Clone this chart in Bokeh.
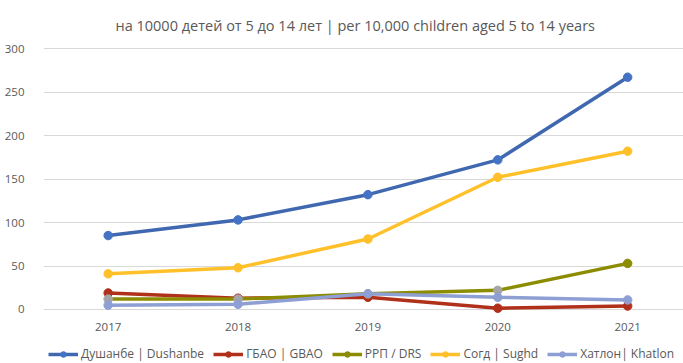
from bokeh.plotting import figure
from bokeh.models import Range1d, FixedTicker, Legend, LegendItem, ColumnDataSource, LabelSet
from bokeh.core.properties import value
from bokeh.embed import file_html
from bokeh.resources import INLINE

years = [2017, 2018, 2019, 2020, 2021]
year_labels = ["2017", "2018", "2019", "2020", "2021"]
dushanbe = [85, 103, 132, 172, 267]
gbao = [19, 13, 14, 1.5, 4]
drs = [12, 12, 18, 22, 53]
sughd = [41, 48, 81, 152, 182]
khatlon = [5, 6, 18, 14, 11]
y_ticks = [0, 50, 100, 150, 200, 250, 300]

series_names = ["Душанбе | Dushanbe", "ГБАО | GBAO", "РРП / DRS", "Согд | Sughd", "Хатлон| Khatlon"]
series_values = [dushanbe, gbao, drs, sughd, khatlon]
line_colors = ["#4068B0", "#B0301A", "#8C8C00", "#FFC02A", "#8E9FD3"]
marker_colors = [
    ["#4472C4"] * 5,
    ["#B0301A"] * 5,
    ["#A5A5A5", "#A5A5A5", "#8C8C00", "#A5A5A5", "#8C8C00"],
    ["#FFC02A"] * 5,
    ["#8E9FD3"] * 5,
]

FONT = "Open Sans"
TXT = "#595959"

# frame spans from y=44 to the bottom of the canvas; 0 sits at y=309
p = figure(width=683, height=363, output_backend="svg", toolbar_location=None,
           x_range=Range1d(2016.502, 2021.43), y_range=Range1d(-62.07, 304.6),
           min_border_left=43, min_border_right=0, min_border_top=44, min_border_bottom=0,
           title="на 10000 детей от 5 до 14 лет | per 10,000 children aged 5 to 14 years")
p.outline_line_color = None
p.background_fill_color = "white"
p.border_fill_color = "white"

p.title.align = "left"
p.title.offset = 72
p.title.text_font = FONT
p.title.text_font_size = "14.5px"
p.title.text_font_style = "normal"
p.title.text_color = TXT
p.title.standoff = 20

p.xgrid.visible = False
p.xaxis.visible = False
p.ygrid.ticker = FixedTicker(ticks=y_ticks)
p.ygrid.grid_line_color = "#D9D9D9"
p.ygrid.grid_line_width = 1

yax = p.yaxis[0]
yax.ticker = FixedTicker(ticks=y_ticks)
yax.axis_line_color = None
yax.major_tick_line_color = None
yax.minor_tick_line_color = None
yax.major_label_text_font = FONT
yax.major_label_text_font_size = "11.5px"
yax.major_label_text_color = TXT
yax.major_label_standoff = 13

# category labels under the plot
lab_src = ColumnDataSource(dict(x=years, y=[-20.5] * len(years), t=year_labels))
p.add_layout(LabelSet(x="x", y="y", text="t", source=lab_src, text_align="center",
                      text_baseline="middle", text_font=value(FONT), text_font_size="11.5px",
                      text_color=TXT))

items = []
for name, vals, lc, mc in zip(series_names, series_values, line_colors, marker_colors):
    src = ColumnDataSource(dict(x=years, y=vals, mc=mc))
    r1 = p.line("x", "y", source=src, line_color=lc, line_width=3.5)
    r2 = p.scatter("x", "y", source=src, size=8.5, fill_color="mc", line_color="mc")
    items.append(LegendItem(label=name, renderers=[r1, r2], index=4))

legend = Legend(items=items, orientation="horizontal", location=(5, 1),
                label_text_font=FONT, label_text_font_size="12px", label_text_color=TXT,
                glyph_width=30, glyph_height=14, label_height=14, label_standoff=3, spacing=9,
                padding=0, margin=0, border_line_color=None, background_fill_alpha=0)
p.add_layout(legend, "center")

open("out.html", "w").write(file_html(p, INLINE))
